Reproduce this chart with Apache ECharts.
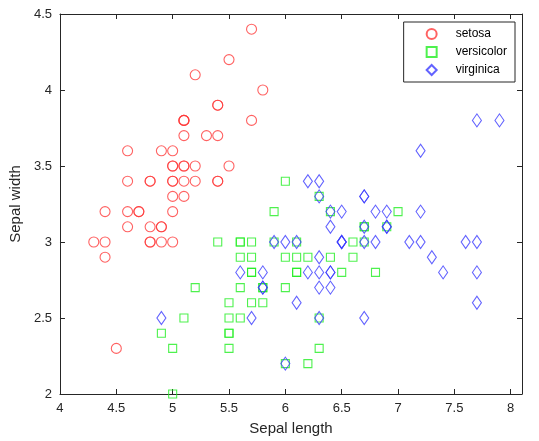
<!DOCTYPE html>
<html><head><meta charset="utf-8">
<script src="https://cdn.jsdelivr.net/npm/echarts@6/dist/echarts.min.js"></script>
<style>html,body{margin:0;padding:0;background:#fff}#c{width:539px;height:441px}</style>
</head><body><div id="c"></div>
<script>
const setosa = [[5.1,3.5],[4.9,3.0],[4.7,3.2],[4.6,3.1],[5.0,3.6],[5.4,3.9],[4.6,3.4],[5.0,3.4],[4.4,2.9],[4.9,3.1],[5.4,3.7],[4.8,3.4],[4.8,3.0],[4.3,3.0],[5.8,4.0],[5.7,4.4],[5.4,3.9],[5.1,3.5],[5.7,3.8],[5.1,3.8],[5.4,3.4],[5.1,3.7],[4.6,3.6],[5.1,3.3],[4.8,3.4],[5.0,3.0],[5.0,3.4],[5.2,3.5],[5.2,3.4],[4.7,3.2],[4.8,3.1],[5.4,3.4],[5.2,4.1],[5.5,4.2],[4.9,3.1],[5.0,3.2],[5.5,3.5],[4.9,3.6],[4.4,3.0],[5.1,3.4],[5.0,3.5],[4.5,2.3],[4.4,3.2],[5.0,3.5],[5.1,3.8],[4.8,3.0],[5.1,3.8],[4.6,3.2],[5.3,3.7],[5.0,3.3]];
const versicolor = [[7.0,3.2],[6.4,3.2],[6.9,3.1],[5.5,2.3],[6.5,2.8],[5.7,2.8],[6.3,3.3],[4.9,2.4],[6.6,2.9],[5.2,2.7],[5.0,2.0],[5.9,3.0],[6.0,2.2],[6.1,2.9],[5.6,2.9],[6.7,3.1],[5.6,3.0],[5.8,2.7],[6.2,2.2],[5.6,2.5],[5.9,3.2],[6.1,2.8],[6.3,2.5],[6.1,2.8],[6.4,2.9],[6.6,3.0],[6.8,2.8],[6.7,3.0],[6.0,2.9],[5.7,2.6],[5.5,2.4],[5.5,2.4],[5.8,2.7],[6.0,2.7],[5.4,3.0],[6.0,3.4],[6.7,3.1],[6.3,2.3],[5.6,3.0],[5.5,2.5],[5.5,2.6],[6.1,3.0],[5.8,2.6],[5.0,2.3],[5.6,2.7],[5.7,3.0],[5.7,2.9],[6.2,2.9],[5.1,2.5],[5.7,2.8]];
const virginica = [[6.3,3.3],[5.8,2.7],[7.1,3.0],[6.3,2.9],[6.5,3.0],[7.6,3.0],[4.9,2.5],[7.3,2.9],[6.7,2.5],[7.2,3.6],[6.5,3.2],[6.4,2.7],[6.8,3.0],[5.7,2.5],[5.8,2.8],[6.4,3.2],[6.5,3.0],[7.7,3.8],[7.7,2.6],[6.0,2.2],[6.9,3.2],[5.6,2.8],[7.7,2.8],[6.3,2.7],[6.7,3.3],[7.2,3.2],[6.2,2.8],[6.1,3.0],[6.4,2.8],[7.2,3.0],[7.4,2.8],[7.9,3.8],[6.4,2.8],[6.3,2.8],[6.1,2.6],[7.7,3.0],[6.3,3.4],[6.4,3.1],[6.0,3.0],[6.9,3.1],[6.7,3.1],[6.9,3.1],[5.8,2.7],[6.8,3.2],[6.7,3.3],[6.7,3.0],[6.3,2.5],[6.5,3.0],[6.2,3.4],[5.9,3.0]];
const seriesNames = ['setosa','versicolor','virginica'];
const xTicks = [4,4.5,5,5.5,6,6.5,7,7.5,8];
const yTicks = [2,2.5,3,3.5,4,4.5];

const axisColor = '#262626';
const font = 'Liberation Sans, Arial, sans-serif';
const chart = echarts.init(document.getElementById('c'));
const fmt = v => String(v);
chart.setOption({
  animation: false,
  grid: {left: 58, right: 17, top: 14, bottom: 47},
  legend: {
    orient: 'vertical', right: 24, top: 22,
    borderColor: axisColor, borderWidth: 1, backgroundColor: '#fff', borderRadius: 0,
    padding: [5, 8, 5, 22], itemGap: 4, itemWidth: 10, itemHeight: 10,
    textStyle: {fontFamily: font, fontSize: 12, lineHeight: 14, color: '#000', padding: [0,0,0,14]},
    data: seriesNames
  },
  xAxis: [{
    type: 'value', min: 4, max: 8.1, interval: 0.5, position: 'bottom',
    name: 'Sepal length', nameLocation: 'middle', nameGap: 27,
    nameTextStyle: {fontFamily: font, fontSize: 15, color: axisColor},
    axisLine: {show: true, onZero: false, lineStyle: {color: axisColor}},
    axisTick: {show: true, inside: true, length: 5, lineStyle: {color: axisColor}},
    axisLabel: {fontFamily: font, fontSize: 13, color: axisColor, margin: 8, showMaxLabel: false,
      formatter: v => xTicks.includes(v) ? fmt(v) : ''},
    splitLine: {show: false}
  },{
    type: 'value', min: 4, max: 8.1, interval: 0.5, position: 'top',
    axisLine: {show: true, onZero: false, lineStyle: {color: axisColor}},
    axisTick: {show: true, inside: true, length: 5, lineStyle: {color: axisColor}},
    axisLabel: {show: false}, splitLine: {show: false}
  }],
  yAxis: [{
    type: 'value', min: 2, max: 4.5, interval: 0.5, position: 'left',
    name: 'Sepal width', nameLocation: 'middle', nameGap: 34, nameRotate: 90,
    nameTextStyle: {fontFamily: font, fontSize: 15, color: axisColor},
    axisLine: {show: true, onZero: false, lineStyle: {color: axisColor}},
    axisTick: {show: true, inside: true, length: 5, lineStyle: {color: axisColor}},
    axisLabel: {fontFamily: font, fontSize: 13, color: axisColor, margin: 8,
      formatter: v => yTicks.includes(v) ? fmt(v) : ''},
    splitLine: {show: false}
  },{
    type: 'value', min: 2, max: 4.5, interval: 0.5, position: 'right',
    axisLine: {show: true, onZero: false, lineStyle: {color: axisColor}},
    axisTick: {show: true, inside: true, length: 5, lineStyle: {color: axisColor}},
    axisLabel: {show: false}, splitLine: {show: false}
  }],
  series: [
    {name: 'setosa', type: 'scatter', data: setosa, symbol: 'circle', symbolSize: 10,
     itemStyle: {color: 'rgba(0,0,0,0)', borderColor: '#ff3b3b', borderWidth: 1.1}},
    {name: 'versicolor', type: 'scatter', data: versicolor, symbol: 'rect', symbolSize: 8,
     itemStyle: {color: 'rgba(0,0,0,0)', borderColor: '#22ee22', borderWidth: 1.1}},
    {name: 'virginica', type: 'scatter', data: virginica, symbol: 'diamond', symbolSize: [9, 13],
     itemStyle: {color: 'rgba(0,0,0,0)', borderColor: '#3b3bff', borderWidth: 1.1}}
  ]
});
</script></body></html>
